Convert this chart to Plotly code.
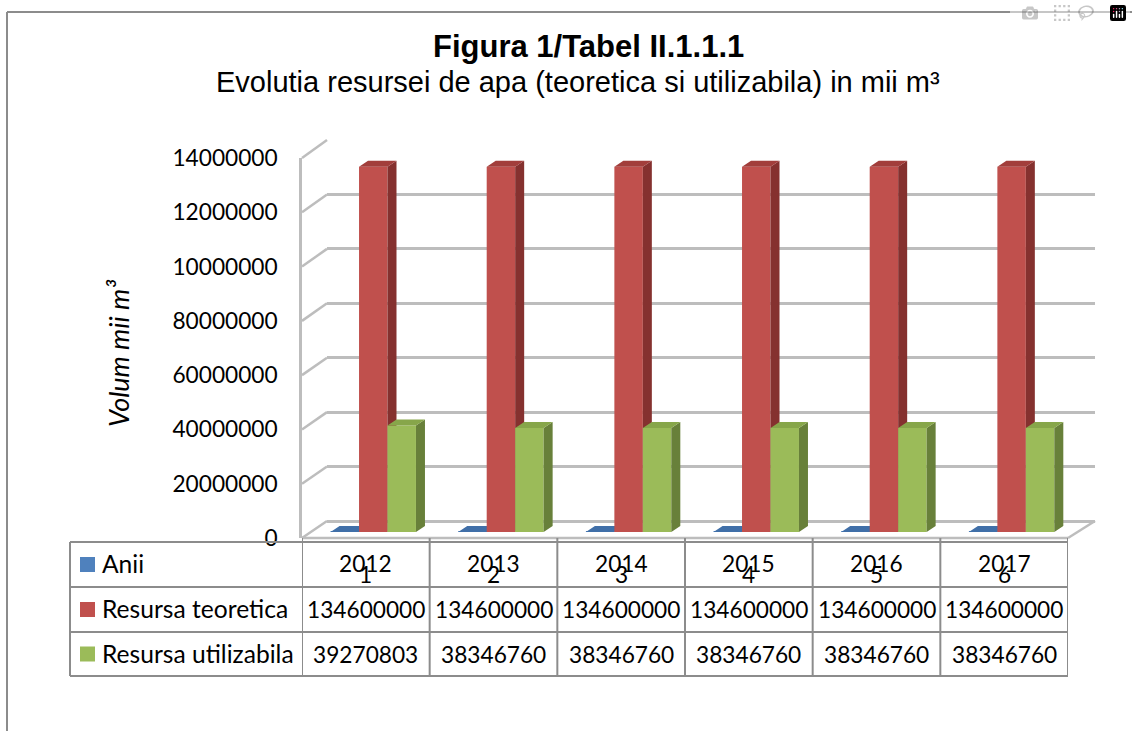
import plotly.graph_objects as go

W, H = 1132, 731

# ---------------- data ----------------
years = ["2012", "2013", "2014", "2015", "2016", "2017"]
cat_numbers = ["1", "2", "3", "4", "5", "6"]
series_names = ["Anii", "Resursa teoretica", "Resursa utilizabila"]
anii = [2012, 2013, 2014, 2015, 2016, 2017]
resursa_teoretica = [134600000, 134600000, 134600000, 134600000, 134600000, 134600000]
resursa_utilizabila = [39270803, 38346760, 38346760, 38346760, 38346760, 38346760]
table_rows = [years,
              [str(v) for v in resursa_teoretica],
              [str(v) for v in resursa_utilizabila]]
y_tick_vals = [0, 20000000, 40000000, 60000000, 80000000, 100000000, 120000000, 140000000]
y_tick_text = ["0", "20000000", "40000000", "60000000", "80000000", "10000000", "12000000", "14000000"]
Y_MAX = 140000000

front_c = ["#4F81BD", "#C0504D", "#9BBB59"]
side_c = ["#34597F", "#85312F", "#68803A"]
top_c = ["#406FA8", "#A23E3B", "#87A64A"]

FONT = "Lato, 'Noto Sans', sans-serif"
TITLE_FONT = "'Liberation Sans Narrow', 'Arial Narrow', 'Liberation Sans', Arial, sans-serif"
GRID = "#BDBDBD"
LINE = "#8C8C8C"
NUM_SIZE = 22.7
LBL_SIZE = 24.6


def px(v):
    return v / W


def py(v):
    return 1 - v / H


# geometry (pixels)
FRONT_L, FRONT_R, FRONT_Y0, FRONT_YT = 302, 1068, 538, 158
BACK_L, BACK_R, BACK_Y0, BACK_YT = 327, 1095, 521, 140
BAR_L, BAR_R, BAR_Y0, BAR_YT = 309.5, 1075.5, 532, 152

BAR_W = 0.223
GROUP_START = -0.335
DX = 9 / ((BAR_R - BAR_L) / 6)           # depth offset in category units
DY = 6 * Y_MAX / (BAR_Y0 - BAR_YT)        # depth offset in value units

fig = go.Figure()

# back wall axis (gridlines) - first subplot (x, y)
fig.add_trace(go.Scatter(x=[None], y=[None], xaxis="x", yaxis="y", showlegend=False, hoverinfo="skip"))

all_series = [anii, resursa_teoretica, resursa_utilizabila]
axis_ids = [("x2", "y2"), ("x3", "y3"), ("x4", "y4")]
for s, vals in enumerate(all_series):
    xa, ya = axis_ids[s]
    offset = GROUP_START + s * BAR_W
    fig.add_trace(go.Bar(x=list(range(6)), y=vals, width=BAR_W, offset=offset,
                         marker=dict(color=front_c[s], line=dict(width=0)),
                         name=series_names[s], xaxis=xa, yaxis=ya, showlegend=False))
    sx, sy, tx, ty = [], [], [], []
    for i, v in enumerate(vals):
        xl = i + offset
        xr = xl + BAR_W
        sx += [xr, xr + DX, xr + DX, xr, xr, None]
        sy += [0, DY, v + DY, v, 0, None]
        tx += [xl, xr, xr + DX, xl + DX, xl, None]
        ty += [v, v, v + DY, v + DY, v, None]
    fig.add_trace(go.Scatter(x=sx, y=sy, fill="toself", fillcolor=side_c[s], mode="lines",
                             line=dict(width=0, color=side_c[s]), xaxis=xa, yaxis=ya,
                             showlegend=False, hoverinfo="skip"))
    fig.add_trace(go.Scatter(x=tx, y=ty, fill="toself", fillcolor=top_c[s], mode="lines",
                             line=dict(width=0, color=top_c[s]), xaxis=xa, yaxis=ya,
                             showlegend=False, hoverinfo="skip"))

# front axis subplot (x5, y5)
fig.add_trace(go.Scatter(x=[None], y=[None], xaxis="x5", yaxis="y5", showlegend=False, hoverinfo="skip"))

hidden = dict(visible=False, showgrid=False, zeroline=False, fixedrange=True, automargin=False)
layout = dict(
    width=W, height=H, margin=dict(l=0, r=0, t=0, b=0, pad=0, autoexpand=False), autosize=False,
    paper_bgcolor="white", plot_bgcolor="rgba(0,0,0,0)", showlegend=False,
    font=dict(family=FONT, color="black", size=22),
    xaxis=dict(domain=[px(BACK_L), px(BACK_R)], range=[-0.5, 5.5], **hidden),
    yaxis=dict(domain=[py(BACK_Y0), py(BACK_YT)], range=[0, Y_MAX], showgrid=True,
               gridcolor=GRID, gridwidth=2.5, zeroline=True, zerolinecolor=GRID, zerolinewidth=2.5,
               tickvals=y_tick_vals, showticklabels=False, ticks="", showline=False,
               fixedrange=True, automargin=False),
)
for s, (xa, ya) in enumerate(axis_ids):
    layout["xaxis" + xa[1:]] = dict(domain=[px(BAR_L), px(BAR_R)], range=[-0.5, 5.5], anchor=ya, **hidden)
    layout["yaxis" + ya[1:]] = dict(domain=[py(BAR_Y0), py(BAR_YT)], range=[0, Y_MAX], anchor=xa, **hidden)
layout["xaxis5"] = dict(domain=[px(FRONT_L), px(FRONT_R)], range=[-0.5, 5.5], anchor="y5", **hidden)
layout["yaxis5"] = dict(domain=[py(FRONT_Y0), py(FRONT_YT)], range=[0, Y_MAX], anchor="x5",
                        tickvals=y_tick_vals, ticktext=y_tick_text, showgrid=False, zeroline=False,
                        showline=True, linecolor=GRID, linewidth=2.5, ticks="",
                        ticklabelstandoff=17, tickfont=dict(family=FONT, size=NUM_SIZE, color="black"),
                        fixedrange=True, automargin=False)
fig.update_layout(**layout)

shapes = []
# diagonals from front axis to back wall
for v in y_tick_vals:
    fy = FRONT_Y0 - v / Y_MAX * (FRONT_Y0 - FRONT_YT)
    by = BACK_Y0 - v / Y_MAX * (BACK_Y0 - BACK_YT)
    shapes.append(dict(type="line", xref="paper", yref="paper", x0=px(FRONT_L), y0=py(fy),
                       x1=px(BACK_L), y1=py(by), line=dict(color=GRID, width=2.5)))
# floor front edge and right diagonal
shapes.append(dict(type="line", xref="paper", yref="paper", x0=px(FRONT_L), y0=py(FRONT_Y0),
                   x1=px(FRONT_R), y1=py(FRONT_Y0), line=dict(color=GRID, width=2.5)))
shapes.append(dict(type="line", xref="paper", yref="paper", x0=px(FRONT_R), y0=py(FRONT_Y0),
                   x1=px(BACK_R), y1=py(BACK_Y0), line=dict(color=GRID, width=2.5)))

# data table
T_LEFT, T_TOP, T_BOT = 70, 542, 676
row_lines = [542, 587, 632, 676]
row_centers = [(row_lines[k] + row_lines[k + 1]) / 2 for k in range(3)]
for yl in row_lines:
    shapes.append(dict(type="line", xref="paper", yref="paper", x0=px(T_LEFT), x1=px(FRONT_R),
                       y0=py(yl), y1=py(yl), line=dict(color=LINE, width=2)))
shapes.append(dict(type="line", xref="paper", yref="paper", x0=px(T_LEFT), x1=px(T_LEFT),
                   y0=py(T_TOP), y1=py(T_BOT), line=dict(color=LINE, width=2)))
for i in range(7):
    shapes.append(dict(type="line", xref="x5", yref="paper", x0=i - 0.5, x1=i - 0.5,
                       y0=py(FRONT_Y0), y1=py(T_BOT), line=dict(color=LINE, width=2)))
# legend keys
for k in range(3):
    shapes.append(dict(type="rect", xref="paper", yref="paper", x0=px(80), x1=px(95),
                       y0=py(row_centers[k] - 7.5), y1=py(row_centers[k] + 7.5),
                       fillcolor=front_c[k], line=dict(width=0)))
# outer frame
shapes.append(dict(type="line", xref="paper", yref="paper", x0=px(7), x1=1, y0=py(12), y1=py(12),
                   line=dict(color=LINE, width=2)))
shapes.append(dict(type="line", xref="paper", yref="paper", x0=px(7), x1=px(7), y0=py(12), y1=0,
                   line=dict(color=LINE, width=2)))

annotations = []
for k in range(3):
    annotations.append(dict(text=series_names[k], xref="paper", yref="paper", x=px(100),
                            y=py(row_centers[k] - 1), xanchor="left", yanchor="middle", showarrow=False,
                            font=dict(family=FONT, size=LBL_SIZE, color="black")))
    for i in range(6):
        yc = row_centers[k] - (1 if k == 0 else 0)
        annotations.append(dict(text=table_rows[k][i], xref="x5", yref="paper", x=i, y=py(yc),
                                xanchor="center", yanchor="middle", showarrow=False,
                                font=dict(family=FONT, size=NUM_SIZE, color="black")))
for i in range(6):
    annotations.append(dict(text=cat_numbers[i], xref="x5", yref="paper", x=i, y=py(574),
                            xanchor="center", yanchor="middle", showarrow=False,
                            font=dict(family=FONT, size=NUM_SIZE, color="black")))

# titles
annotations.append(dict(text="<b>Figura 1/Tabel II.1.1.1</b>", xref="paper", yref="paper",
                        x=px(588), y=py(47), xanchor="center", yanchor="middle", showarrow=False,
                        font=dict(family=TITLE_FONT, size=31, color="black")))
annotations.append(dict(text="Evolutia resursei de apa (teoretica si utilizabila) in mii m³",
                        xref="paper", yref="paper", x=px(578), y=py(82), xanchor="center",
                        yanchor="middle", showarrow=False,
                        font=dict(family=TITLE_FONT, size=29, color="black")))
annotations.append(dict(text="<i>Volum mii m³</i>", xref="paper", yref="paper",
                        x=px(118), y=py(353), xanchor="center", yanchor="middle", textangle=-90,
                        showarrow=False, font=dict(family=FONT, size=27, color="black")))

fig.update_layout(shapes=shapes, annotations=annotations)

fig.write_html("out.html", post_script="document.body.style.margin='0';document.body.style.overflow='hidden';")
